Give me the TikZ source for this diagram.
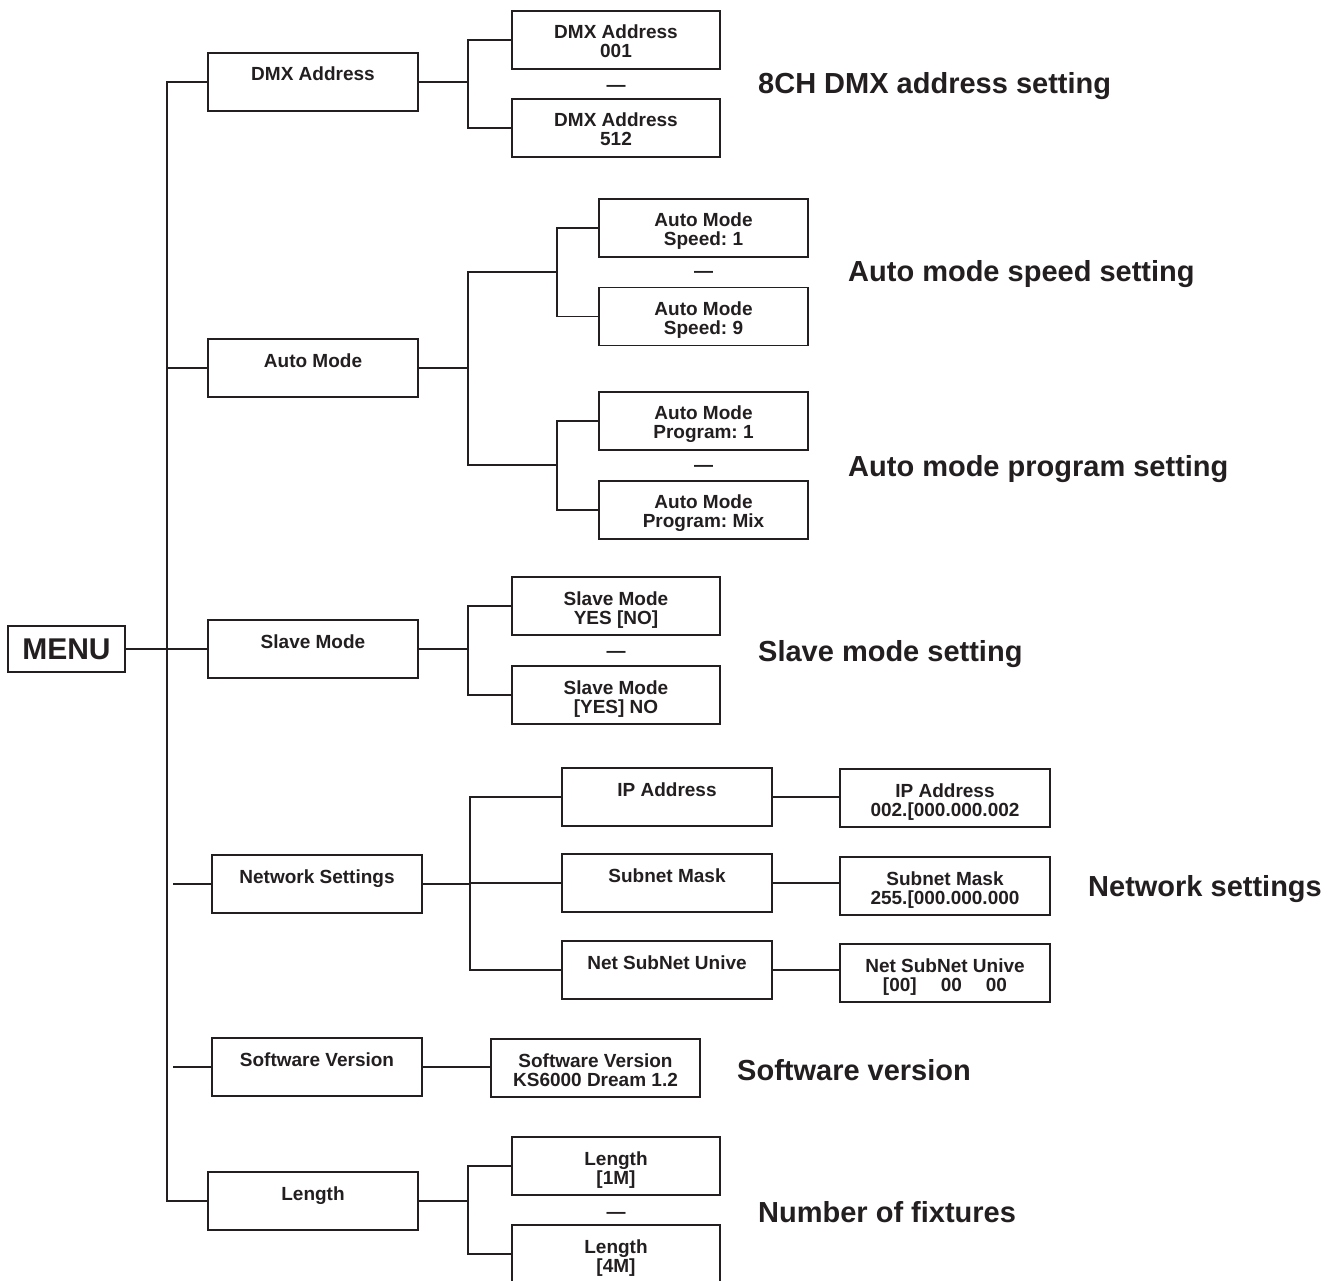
\documentclass[tikz,border=0pt]{standalone}
\usepackage{fontspec}
\setmainfont{Liberation Sans}
\frenchspacing
\definecolor{ink}{HTML}{231F20}
\tikzset{
  frame/.style={draw=ink, line width=1.9pt, inner sep=0pt, text=ink},
  box/.style={frame, minimum height=58pt, align=center,
    font=\fontsize{19}{19}\selectfont\bfseries\frenchspacing,
    execute at begin node={\rule{0pt}{40pt}},
    execute at end node={\rule[-4pt]{0pt}{4pt}}},
  wa/.style={box, minimum width=210pt},
  wb/.style={box, minimum width=208pt},
  wc/.style={box, minimum width=209pt},
  menubox/.style={frame, minimum width=117pt, minimum height=46pt,
    font=\fontsize{30}{30}\selectfont\bfseries},
  lnk/.style={draw=ink, line width=1.9pt},
  lbl/.style={anchor=base west, inner sep=0pt, text=ink,
    font=\fontsize{29}{29}\selectfont\bfseries},
  sepdash/.style={inner sep=0pt, text=ink, yshift=-3.5pt, font=\fontsize{19}{19}\selectfont\bfseries},
}
\begin{document}
\begin{tikzpicture}[x=1pt,y=-1pt]
\useasboundingbox (0,0) rectangle (1341,1281);
\fill[white] (0,0) rectangle (1341,1281);

% root
\node[menubox] (menu) at (66.5,649) {MENU};

% level 1
\node[wa] (dmx)   at (313,82)   {DMX Address\\~};
\node[wa] (auto)  at (313,368)  {Auto Mode\\~};
\node[wa] (slave) at (313,649)  {Slave Mode\\~};
\node[wa] (net)   at (317,884)  {Network Settings\\~};
\node[wa] (soft)  at (317,1067) {Software Version\\~};
\node[wa] (len)   at (313,1201) {Length\\~};

% DMX
\node[wb] (dmx1) at (616,40)  {DMX Address\\001};
\node[sepdash] (dmxd) at (616,85) {—};
\node[wb] (dmx2) at (616,128) {DMX Address\\512};

% Auto mode
\node[wc] (as1) at (703.5,228)   {Auto Mode\\Speed: 1};
\node[sepdash] (asd) at (703.5,271) {—};
\node[wc] (as2) at (703.5,316.5) {Auto Mode\\Speed: 9};
\node[wc] (ap1) at (703.5,421)   {Auto Mode\\Program: 1};
\node[sepdash] (apd) at (703.5,465) {—};
\node[wc] (ap2) at (703.5,510)   {Auto Mode\\Program: Mix};

% Slave
\node[wb] (sl1) at (616,606) {Slave Mode\\YES [NO]};
\node[sepdash] (sld) at (616,651) {—};
\node[wb] (sl2) at (616,695) {Slave Mode\\{[YES]} NO};

% Network
\node[wa] (ip)  at (667,797) {IP Address\\~};
\node[wa] (sm)  at (667,883) {Subnet Mask\\~};
\node[wa] (nsu) at (667,970) {Net SubNet Unive\\~};
\node[wa] (ipv)  at (945,798) {IP Address\\002.[000.000.002};
\node[wa] (smv)  at (945,886) {Subnet Mask\\255.[000.000.000};
\node[wa] (nsuv) at (945,973) {Net SubNet Unive\\{[00]}\hspace{24pt}00\hspace{24pt}00};

% Software
\node[wc] (softv) at (595.5,1068) {Software Version\\KS6000 Dream 1.2};

% Length
\node[wb] (len1) at (616,1166) {Length\\{[1M]}};
\node[sepdash] (lend) at (616,1212) {—};
\node[wb] (len2) at (616,1254) {Length\\{[4M]}};

% labels
\node[lbl] (l1) at (758,94)   {8CH DMX address setting};
\node[lbl] (l2) at (848,282)  {Auto mode speed setting};
\node[lbl] (l3) at (848,476)  {Auto mode program setting};
\node[lbl] (l4) at (758,661)  {Slave mode setting};
\node[lbl] (l5) at (1088,896) {Network settings};
\node[lbl] (l6) at (737,1080) {Software version};
\node[lbl] (l7) at (758,1222) {Number of fixtures};

% junction coordinates
\coordinate (tr)  at (167,0);
\coordinate (trb) at (173,0);
\coordinate (ja)  at (468,0);
\coordinate (jn)  at (470,0);
\coordinate (sj)  at (557,272);
\coordinate (pj)  at (557,465);

% trunk
\draw[lnk] (menu.east) -- (slave.west);
\draw[lnk] (dmx.west) -- (dmx.west -| tr) -- (len.west -| tr) -- (len.west);
\draw[lnk] (auto.west) -- (auto.west -| tr);
\draw[lnk] (net.west) -- (net.west -| trb);
\draw[lnk] (soft.west) -- (soft.west -| trb);

% DMX
\draw[lnk] (dmx.east) -- (dmx.east -| ja);
\draw[lnk] (dmx1.west) -- (dmx1.west -| ja) -- (dmx2.west -| ja) -- (dmx2.west);

% Auto
\draw[lnk] (auto.east) -- (auto.east -| ja);
\draw[lnk] (sj) -- (sj -| ja) -- (pj -| ja) -- (pj);
\draw[lnk] (as1.west) -- (as1.west -| sj) -- (as2.west -| sj) -- (as2.west);
\draw[lnk] (ap1.west) -- (ap1.west -| pj) -- (ap2.west -| pj) -- (ap2.west);

% Slave
\draw[lnk] (slave.east) -- (slave.east -| ja);
\draw[lnk] (sl1.west) -- (sl1.west -| ja) -- (sl2.west -| ja) -- (sl2.west);

% Network
\draw[lnk] (net.east) -- (net.east -| jn);
\draw[lnk] (ip.west) -- (ip.west -| jn) -- (nsu.west -| jn) -- (nsu.west);
\draw[lnk] (sm.west) -- (sm.west -| jn);
\draw[lnk] (ip.east) -- (ip.east -| ipv.west);
\draw[lnk] (sm.east) -- (sm.east -| smv.west);
\draw[lnk] (nsu.east) -- (nsu.east -| nsuv.west);

% Software
\draw[lnk] (soft.east) -- (soft.east -| softv.west);

% Length
\draw[lnk] (len.east) -- (len.east -| ja);
\draw[lnk] (len1.west) -- (len1.west -| ja) -- (len2.west -| ja) -- (len2.west);
\end{tikzpicture}
\end{document}
